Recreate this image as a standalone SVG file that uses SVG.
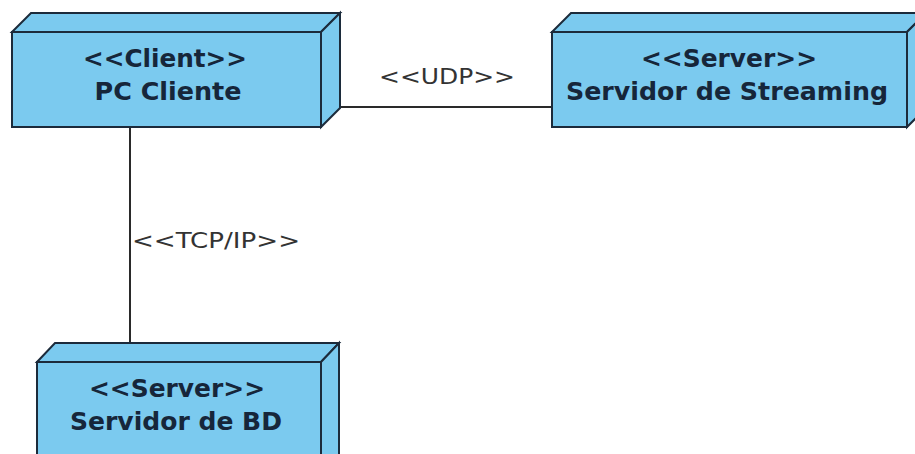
<svg xmlns="http://www.w3.org/2000/svg" width="915" height="454" viewBox="0 0 915 454">
  <style>
    .face { fill: #7bcaef; stroke: #1c2b3b; stroke-width: 2; stroke-linejoin: miter; }
    .name { font-family: "DejaVu Sans", Verdana, sans-serif; font-weight: bold; font-size: 24px; fill: #16263a; text-anchor: middle; }
    .link { stroke: #2a2a2a; stroke-width: 2; fill: none; }
    .label { font-family: "DejaVu Sans", Verdana, sans-serif; font-size: 22px; fill: #333333; }
  </style>
  <rect width="915" height="454" fill="#ffffff"/>

  <!-- connectors -->
  <g id="connectors">
    <line class="link" x1="340" y1="107" x2="552" y2="107"/>
    <text class="label" x="379" y="84" textLength="136" lengthAdjust="spacingAndGlyphs">&lt;&lt;UDP&gt;&gt;</text>
    <line class="link" x1="130" y1="127" x2="130" y2="343"/>
    <text class="label" x="132" y="248" textLength="168" lengthAdjust="spacingAndGlyphs">&lt;&lt;TCP/IP&gt;&gt;</text>
  </g>

  <!-- client node -->
  <g id="pc-cliente">
    <polygon class="face" points="12,32 31,13 340,13 321,32"/>
    <polygon class="face" points="321,32 340,13 340,108 321,127"/>
    <rect class="face" x="12" y="32" width="309" height="95"/>
    <text class="name" x="165" y="67" textLength="164" lengthAdjust="spacingAndGlyphs">&lt;&lt;Client&gt;&gt;</text>
    <text class="name" x="168" y="100" textLength="147" lengthAdjust="spacingAndGlyphs">PC Cliente</text>
  </g>

  <!-- streaming server node -->
  <g id="servidor-streaming">
    <polygon class="face" points="552,32 571,13 926,13 907,32"/>
    <polygon class="face" points="907,32 926,13 926,108 907,127"/>
    <rect class="face" x="552" y="32" width="355" height="95"/>
    <text class="name" x="729" y="67" textLength="176" lengthAdjust="spacingAndGlyphs">&lt;&lt;Server&gt;&gt;</text>
    <text class="name" x="727" y="100" textLength="322" lengthAdjust="spacingAndGlyphs">Servidor de Streaming</text>
  </g>

  <!-- database server node -->
  <g id="servidor-bd">
    <polygon class="face" points="37,362 55,343 339,343 321,362"/>
    <polygon class="face" points="321,362 339,343 339,460 321,470"/>
    <rect class="face" x="37" y="362" width="284" height="110"/>
    <text class="name" x="177" y="397" textLength="176" lengthAdjust="spacingAndGlyphs">&lt;&lt;Server&gt;&gt;</text>
    <text class="name" x="176" y="430" textLength="212" lengthAdjust="spacingAndGlyphs">Servidor de BD</text>
  </g>
</svg>
